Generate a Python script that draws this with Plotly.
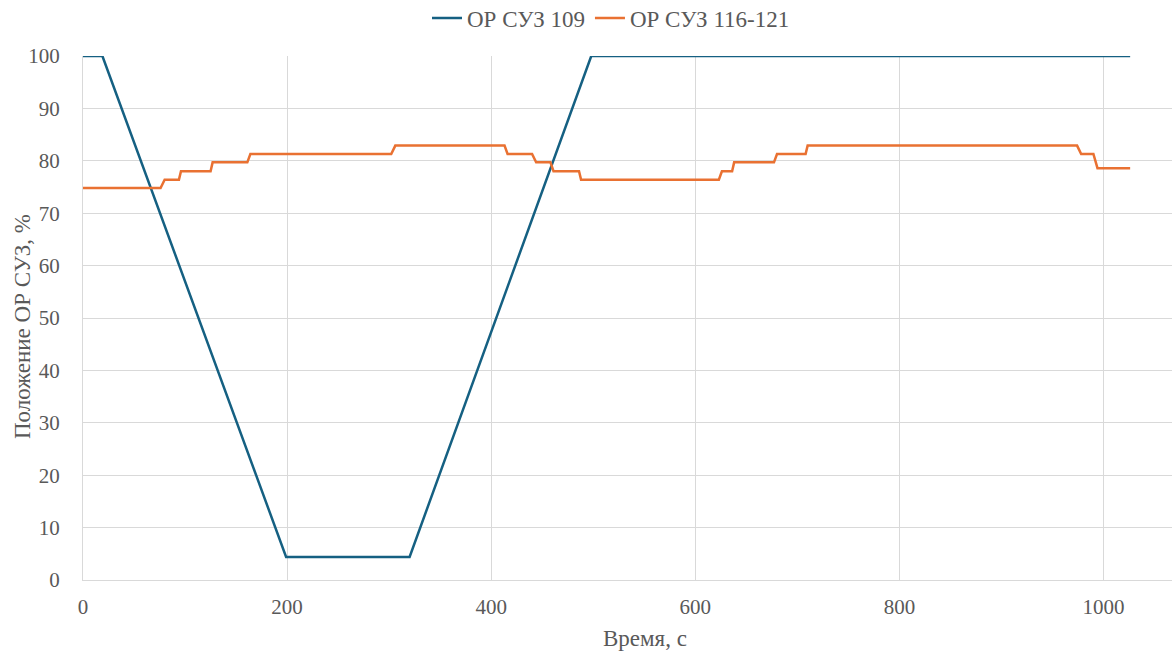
import plotly.graph_objects as go

# Data
t_109 = [0, 19, 199, 320, 498, 1026]
pos_109 = [100, 100, 4.4, 4.4, 100, 100]

t_116 = [0, 76, 80, 94, 96, 125, 127, 161, 164, 302, 306, 413, 416, 440, 444,
         458, 461, 486, 488, 623, 626, 636, 638, 677, 680, 708, 710, 974, 978,
         990, 994, 1026]
pos_116 = [74.8, 74.8, 76.4, 76.4, 78.0, 78.0, 79.7, 79.7, 81.3, 81.3, 82.9,
           82.9, 81.3, 81.3, 79.7, 79.7, 78.0, 78.0, 76.4, 76.4, 78.0, 78.0,
           79.7, 79.7, 81.3, 81.3, 82.9, 82.9, 81.3, 81.3, 78.6, 78.6]

series_names = ["ОР СУЗ 109", "ОР СУЗ 116-121"]
x_ticks = [0, 200, 400, 600, 800, 1000]
y_ticks = [0, 10, 20, 30, 40, 50, 60, 70, 80, 90, 100]
x_title = "Время, с"
y_title = "Положение ОР СУЗ, %"

FONT = "Liberation Serif"
GREY = "#595959"

fig = go.Figure()
fig.add_trace(go.Scatter(x=t_109, y=pos_109, mode="lines", name=series_names[0],
                         line=dict(color="#156082", width=2.5)))
fig.add_trace(go.Scatter(x=t_116, y=pos_116, mode="lines", name=series_names[1],
                         line=dict(color="#E97132", width=2.5)))

W, H = 1172, 652
L, R, T, B = 83, 0, 56, 72
pw, ph = W - L - R, H - T - B

fig.update_layout(
    width=W, height=H,
    margin=dict(l=L, r=R, t=T, b=B, autoexpand=False),
    paper_bgcolor="white", plot_bgcolor="white",
    font=dict(family=FONT, size=21, color=GREY),
    showlegend=True,
    legend=dict(orientation="h", x=(611 - L) / pw, xanchor="center", y=1 + 38 / ph,
                yanchor="middle", yref="paper",
                font=dict(family=FONT, size=23, color=GREY),
                itemwidth=30, traceorder="normal", bgcolor="rgba(0,0,0,0)"),
    xaxis=dict(range=[0, 1067], tickvals=x_ticks, showgrid=True, gridcolor="#d9d9d9",
               gridwidth=1, zeroline=False, showline=True, linecolor="#d9d9d9",
               linewidth=1, ticks="", automargin=False, ticklabelstandoff=8,
               tickfont=dict(family=FONT, size=21, color=GREY)),
    yaxis=dict(range=[0, 100], tickvals=y_ticks, showgrid=True, gridcolor="#d9d9d9",
               gridwidth=1, zeroline=False, showline=True, linecolor="#d9d9d9",
               linewidth=1, ticks="", automargin=False, ticklabelstandoff=18,
               tickfont=dict(family=FONT, size=21, color=GREY)),
    annotations=[
        dict(text=x_title, xref="paper", yref="paper", x=(645 - L) / pw,
             y=-(638 - (H - B)) / ph, xanchor="center", yanchor="middle",
             showarrow=False, font=dict(family=FONT, size=23, color=GREY)),
        dict(text=y_title, xref="paper", yref="paper", x=-(L - 22) / pw,
             y=((H - B) - 327) / ph, xanchor="center", yanchor="middle",
             showarrow=False, textangle=-90,
             font=dict(family=FONT, size=23, color=GREY)),
    ],
)

fig.write_html("out.html",
               config={"displayModeBar": False},
               post_script="document.body.style.margin='0px';"
                           "document.body.style.overflow='hidden';")
